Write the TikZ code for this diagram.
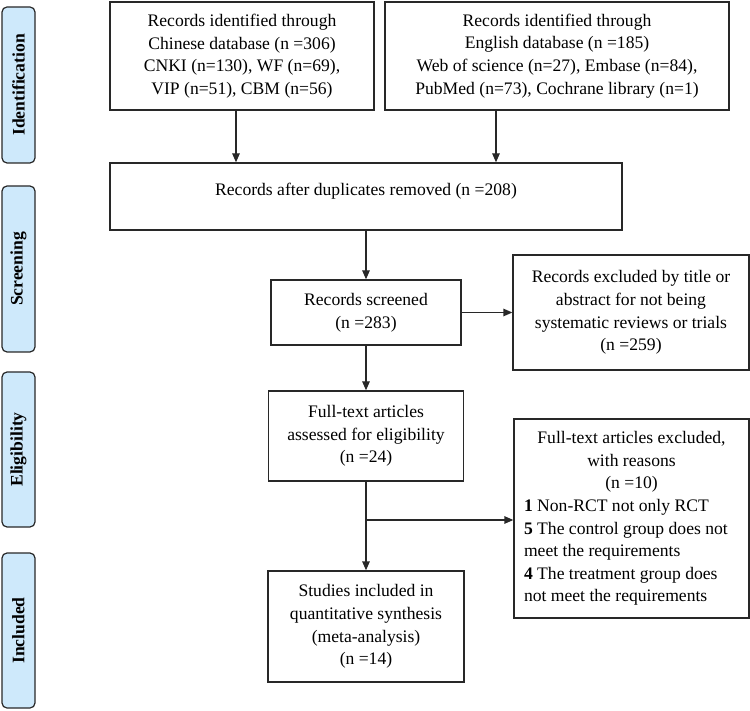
\documentclass[tikz,border=0pt]{standalone}
\usepackage{fontspec}
\setmainfont{Liberation Serif}
\usetikzlibrary{arrows.meta}
\definecolor{labelblue}{RGB}{206,233,251}
\definecolor{linegray}{RGB}{40,40,40}
\begin{document}
\begin{tikzpicture}[x=1pt,y=-1pt,
  every node/.style={font=\fontsize{17.6}{22.6}\selectfont},
  box/.style={draw=linegray, line width=1.3pt, rectangle, inner sep=0pt, align=center},
  phase/.style={draw=linegray, line width=1.2pt, fill=labelblue, rounded corners=5pt, inner sep=0pt,
     minimum width=33pt, font=\fontsize{17.6}{20}\selectfont\bfseries},
  arr/.style={draw=linegray, line width=1.3pt, -{Triangle[length=9pt,width=7.5pt]}},
  ln/.style={draw=linegray, line width=1.3pt}]
\useasboundingbox (0,0) rectangle (750,711);
% phase labels
\node[phase, minimum height=156pt] (pid) at (18.5,85) {\rotatebox{90}{Identification}};
\node[phase, minimum height=166pt] (psc) at (18.5,269) {\rotatebox{90}{Screening}};
\node[phase, minimum height=155pt] (pel) at (18.5,449.5) {\rotatebox{90}{Eligibility}};
\node[phase, minimum height=155pt] (pin) at (18.5,630.5) {\rotatebox{90}{Included}};
% boxes
\node[box, minimum width=264pt, minimum height=108pt] (cn) at (242,56)
  {Records identified through\\Chinese database (n =306)\\CNKI (n=130), WF (n=69),\\VIP (n=51), CBM (n=56)};
\node[box, minimum width=344pt, minimum height=108pt] (en) at (557,56)
  {Records identified through\\English database (n =185)\\Web of science (n=27), Embase (n=84),\\PubMed (n=73), Cochrane library (n=1)};
\node[box, minimum width=512pt, minimum height=67pt] (dup) at (366,196.5) {};
\node[inner sep=0pt] (duptext) at (366,191) {Records after duplicates removed (n =208)};
\node[box, minimum width=190pt, minimum height=65pt] (scr) at (366,312.5)
  {Records screened\\(n =283)};
\node[box, minimum width=236pt, minimum height=115pt] (ex1) at (631,312.5)
  {Records excluded by title or\\abstract for not being\\systematic reviews or trials\\(n =259)};
\node[box, minimum width=195pt, minimum height=90pt] (ft) at (366,436)
  {Full-text articles\\assessed for eligibility\\(n =24)};
\node[box, minimum width=235pt, minimum height=199pt, align=left] (ex2) at (631.5,518.5)
  {\parbox{215pt}{{\centering Full-text articles excluded,\\with reasons\\(n =10)\par}%
   \raggedright\textbf{1} Non-RCT not only RCT\\
   \textbf{5} The control group does not\\meet the requirements\\
   \textbf{4} The treatment group does\\not meet the requirements}};
\node[box, minimum width=196pt, minimum height=111pt] (st) at (366,626.5)
  {Studies included in\\quantitative synthesis\\(meta-analysis)\\(n =14)};
% connectors
\draw[arr] ([xshift=-6pt]cn.south) -- ([xshift=-6pt]cn.south |- dup.north);
\draw[arr] ([xshift=-61pt]en.south) -- ([xshift=-61pt]en.south |- dup.north);
\draw[arr] (dup.south) -- (scr.north);
\draw[arr] (scr.east) -- (ex1.west);
\draw[arr] (scr.south) -- (ft.north);
\draw[arr] (ft.south) -- (st.north);
\coordinate (br) at (366,520);
\draw[arr] (br) -- (br -| ex2.west);
\end{tikzpicture}
\end{document}
